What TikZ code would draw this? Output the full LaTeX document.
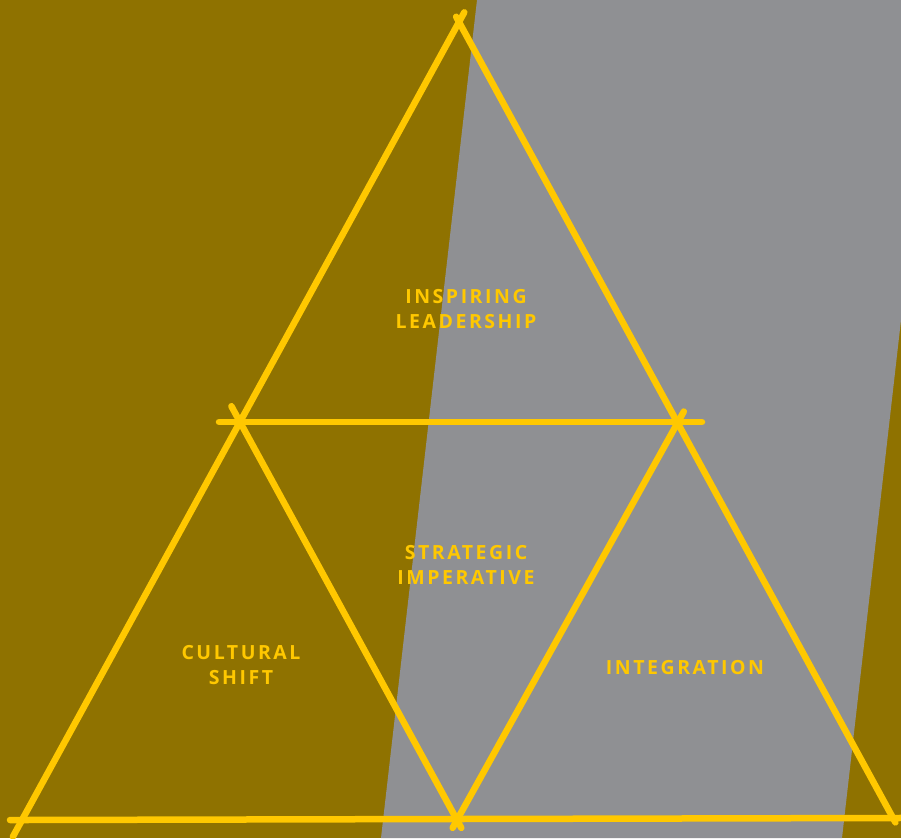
\documentclass[tikz,border=0pt]{standalone}
\usepackage{fontspec}
\setmainfont{Open Sans}
\newfontfamily\labelfont[LetterSpace=13]{Open Sans}
\definecolor{olivebg}{RGB}{143,114,0}
\definecolor{greyband}{RGB}{143,144,147}
\definecolor{goldline}{RGB}{255,200,0}

\begin{document}
\begin{tikzpicture}[
                x = 1pt, y = -1pt, % pixel like units, y downwards
                line width = 6.5pt, line cap = round, % line style
                draw = goldline
            ]

            \tikzstyle{area}=[text = goldline, align = center, font =
            \labelfont\bfseries\fontsize{19.5}{24.5}\selectfont, inner sep = 0pt]

            % background
            \fill[olivebg] (0,0) rectangle (901,838);
            \fill[greyband] (477,0) -- (901,0) -- (901,320) -- (842,838) --
            (381,838) -- cycle;
            \useasboundingbox (0,0) rectangle (901,838);

            \coordinate (top) at (459,22); \coordinate (ml) at (240,422);
            \coordinate (mr) at (678,422); \coordinate (bl) at (22,820);
            \coordinate (bm) at (457,820); \coordinate (br) at (893,818);

            \draw[shorten <=-11pt, shorten >=-19pt] (top) -- (bl);
            \draw[shorten <=-6pt, shorten >=-5pt] (top) -- (br);
            \draw[shorten <=-18pt, shorten >=-9pt] (ml) -- (bm);
            \draw[shorten <=-12pt, shorten >=-9pt] (mr) -- (bm);
            \draw[shorten <=-21pt, shorten >=-24pt] (ml) -- (mr);
            \draw[shorten <=-12pt, shorten >=-12pt] (bl) -- (br);

            \node (lead) [area] at (466,309) {INSPIRING\\LEADERSHIP};
            \node (strat) [area] at (466,565) {STRATEGIC\\IMPERATIVE};
            \node (cult) [area] at (241,665) {CULTURAL\\SHIFT};
            \node (integ) [area] at (685,668) {INTEGRATION};

        \end{tikzpicture}
\end{document}
